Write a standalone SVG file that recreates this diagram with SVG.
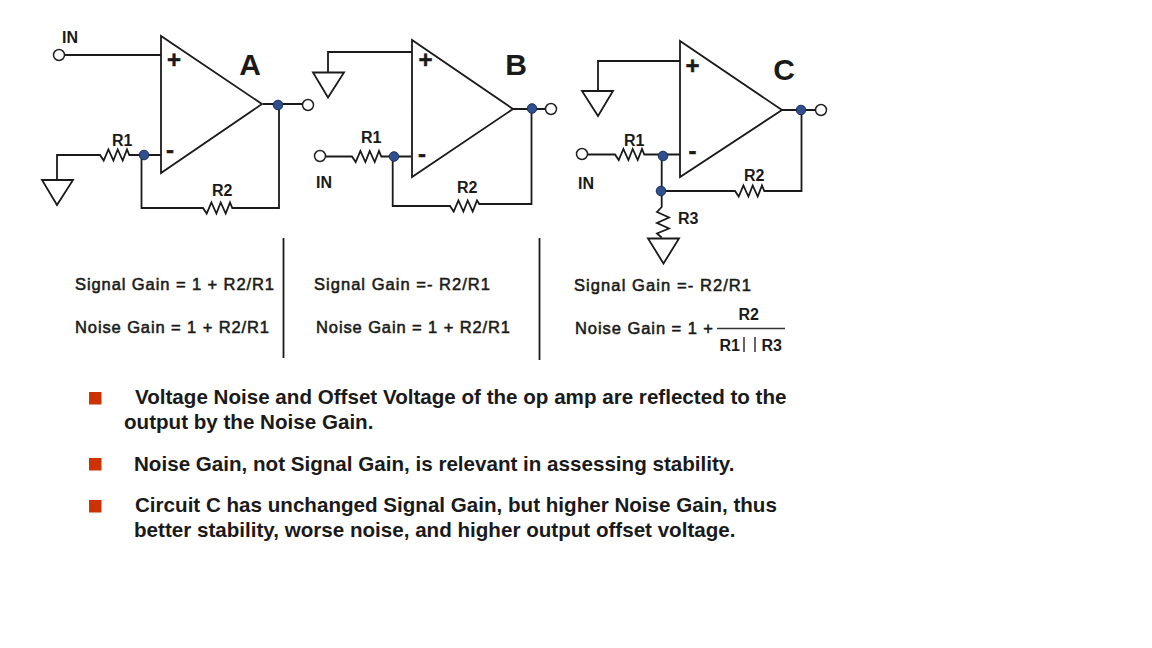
<svg xmlns="http://www.w3.org/2000/svg" width="1152" height="648" viewBox="0 0 1152 648">
<style>
text{font-family:"Liberation Sans",Arial,sans-serif;fill:#1a1a1a;font-weight:700}
.c{font-size:16px}
.e{font-size:16.500px;font-weight:400;stroke:#1a1a1a;stroke-width:.55px}
.b{font-size:20.600px}
.p{font-size:24px;stroke:#1a1a1a;stroke-width:.5px}
.big{font-size:30px}
.w{fill:none;stroke:#1a1a1a;stroke-width:1.800;stroke-linejoin:miter}
.t{fill:none;stroke:#333;stroke-width:1.500}
.g{fill:#fff;stroke:#1a1a1a;stroke-width:1.800}
.o{fill:#fff;stroke:#222;stroke-width:1.500}
.d{fill:#2f4f8f;stroke:#1d2f5a;stroke-width:1}
.r{fill:#cc3300}
</style>
<rect width="1152" height="648" fill="#fff"/>
<g id="connectors">
<path class="w" d="M65 55H161M263 104H303M57 180V155H100l3.700 5.500 4.700 -11 5 11 4.300 -11 5 11 4.300 -11 2.300 5.500H161M141.500 155V208H203l3.700 5.500 4.700 -11 5 11 4.300 -11 5 11 4.300 -11 2.300 5.500H279V104"/>
<path class="w" d="M412 52H328V72M513 109H546M326 156.500H352l3.700 5.500 4.700 -11 5 11 4.300 -11 5 11 4.300 -11 2.300 5.500H411M392.700 156.500V206H450l3.700 5.500 4.700 -11 5 11 4.300 -11 5 11 4.300 -11 2.300 3.500H531.500V109"/>
<path class="w" d="M680 61H598V91M782 110H816M588 154.500H615l3.700 5.500 4.700 -11 5 11 4.300 -11 5 11 4.300 -11 2.300 5.500H680M661.700 155V207l-4.700 5 12 5.500 -12 5.500 12 5.500 -12 5 4.700 4M661.700 191H735l3.700 5.500 4.700 -11 5 11 4.300 -11 5 11 4.300 -11 2.300 5.500H801.500V110"/>
</g>
<g id="opamp-a">
<path class="g" d="M161 36V173L262 104Z"/>
<text class="p" x="174" y="68" text-anchor="middle">+</text>
<text class="p" x="170" y="158" text-anchor="middle">-</text>
<text class="big" x="250" y="75" text-anchor="middle">A</text>
</g>
<g id="opamp-b">
<path class="g" d="M412 40V177L513 109Z"/>
<text class="p" x="425.500" y="68" text-anchor="middle">+</text>
<text class="p" x="422" y="162" text-anchor="middle">-</text>
<text class="big" x="516" y="75" text-anchor="middle">B</text>
</g>
<g id="opamp-c">
<path class="g" d="M680 41V177L782 110Z"/>
<text class="p" x="692.500" y="74" text-anchor="middle">+</text>
<text class="p" x="692.500" y="159" text-anchor="middle">-</text>
<text class="big" x="784" y="80" text-anchor="middle">C</text>
</g>
<g id="ground-a"><path class="g" d="M42 180H73L57 205Z"/></g>
<g id="ground-b"><path class="g" d="M313 72.500H344L328 97.500Z"/></g>
<g id="ground-c1"><path class="g" d="M582 91H613L598 116Z"/></g>
<g id="ground-c2"><path class="g" d="M648 238.500H679L663.500 263.500Z"/></g>
<g id="terminals">
<circle class="o" cx="59" cy="55" r="5.500"/><circle class="o" cx="308" cy="105" r="5.500"/>
<circle class="o" cx="320" cy="156" r="5.500"/><circle class="o" cx="551" cy="109" r="5.500"/>
<circle class="o" cx="582" cy="154" r="5.500"/><circle class="o" cx="821" cy="110" r="5.500"/>
<circle class="d" cx="278" cy="105" r="4.800"/><circle class="d" cx="144" cy="155" r="4.800"/>
<circle class="d" cx="394" cy="156.500" r="4.800"/><circle class="d" cx="532" cy="108.500" r="4.800"/>
<circle class="d" cx="663" cy="156" r="4.800"/><circle class="d" cx="661" cy="191" r="4.800"/>
<circle class="d" cx="801" cy="110" r="4.800"/>
</g>
<g id="labels">
<text class="c" x="62" y="43">IN</text>
<text class="c" x="112" y="146">R1</text>
<text class="c" x="212" y="196">R2</text>
<text class="c" x="361" y="143">R1</text>
<text class="c" x="316" y="188">IN</text>
<text class="c" x="457" y="193">R2</text>
<text class="c" x="624" y="146">R1</text>
<text class="c" x="578" y="189">IN</text>
<text class="c" x="744" y="181">R2</text>
<text class="c" x="678" y="224">R3</text>
</g>
<g id="equations">
<text class="e" x="75" y="290" textLength="199">Signal Gain = 1 + R2/R1</text>
<text class="e" x="75" y="333" textLength="194">Noise Gain = 1 + R2/R1</text>
<text class="e" x="314" y="290" textLength="176">Signal Gain =- R2/R1</text>
<text class="e" x="316" y="333" textLength="194">Noise Gain = 1 + R2/R1</text>
<text class="e" x="574" y="291" textLength="177">Signal Gain =- R2/R1</text>
<text class="e" x="575" y="334" textLength="138">Noise Gain = 1 +</text>
<text class="c" x="738.500" y="320">R2</text>
<text class="c" x="719.500" y="351">R1</text>
<text class="c" x="761.500" y="351">R3</text>
<path class="t" d="M717 328.500H785M744 337V352M755 337V352"/>
<path class="w" d="M283.500 238V358M539.500 238V360"/>
</g>
<g id="bullets">
<rect class="r" x="89" y="392" width="12.500" height="12.500"/>
<rect class="r" x="89" y="458" width="12.500" height="12.500"/>
<rect class="r" x="89" y="500" width="12.500" height="12.500"/>
<text class="b" x="135" y="404">Voltage Noise and Offset Voltage of the op amp are reflected to the</text>
<text class="b" x="124" y="429">output by the Noise Gain.</text>
<text class="b" x="134" y="471">Noise Gain, not Signal Gain, is relevant in assessing stability.</text>
<text class="b" x="135" y="512">Circuit C has unchanged Signal Gain, but higher Noise Gain, thus</text>
<text class="b" x="134" y="537">better stability, worse noise, and higher output offset voltage.</text>
</g>
</svg>
